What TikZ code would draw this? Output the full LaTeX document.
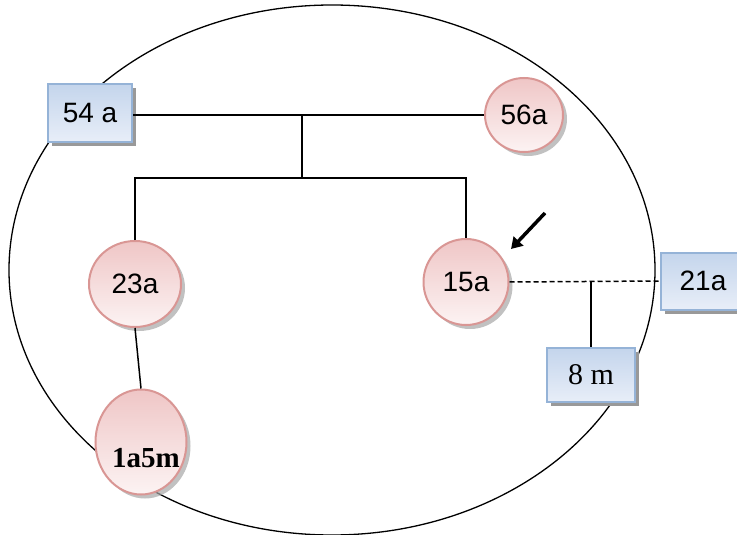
\documentclass[tikz,border=0pt]{standalone}
\usepackage{fontspec}
\newfontfamily\arialf{Liberation Sans}
\newfontfamily\timesf{Liberation Serif}
\usetikzlibrary{shapes.geometric,shadows,arrows.meta}
\definecolor{boxtop}{HTML}{C4D5EC}
\definecolor{boxbot}{HTML}{E8EEF8}
\definecolor{boxline}{HTML}{95B3D7}
\definecolor{balltop}{HTML}{EFC6C6}
\definecolor{ballbot}{HTML}{FCF3F3}
\definecolor{ballline}{HTML}{D99694}
\tikzset{
  link/.style={draw=black, line width=1.5pt},
  boxnode/.style={rectangle, draw=boxline, line width=2pt,
    top color=boxtop, bottom color=boxbot, inner sep=0pt,
    drop shadow={shadow xshift=4pt, shadow yshift=-4pt, fill=black!40, opacity=1},
    font=\arialf\fontsize{28}{30}\selectfont},
  ballnode/.style={ellipse, draw=ballline, line width=2pt,
    top color=balltop, bottom color=ballbot, inner sep=0pt,
    drop shadow={shadow xshift=4pt, shadow yshift=-4pt, fill=black!35, opacity=0.7},
    font=\arialf\fontsize{28}{30}\selectfont},
}
\begin{document}
\begin{tikzpicture}[x=1pt, y=-1pt]
\useasboundingbox (0,0) rectangle (737,535);

% enclosing ellipse
\draw[line width=1.3pt] (332,270) ellipse [x radius=323pt, y radius=265pt];

% nodes
\node[boxnode, minimum width=84pt, minimum height=58pt] (b54) at (90,113) {54 a};
\node[ballnode, minimum width=78pt, minimum height=74pt] (c56) at (524,115) {56a};
\node[ballnode, minimum width=92pt, minimum height=86pt] (c23) at (135,284) {23a};
\node[ballnode, minimum width=85pt, minimum height=86pt] (c15) at (466,282) {15a};
\node[ballnode, minimum width=91pt, minimum height=105pt] (c1a5m) at (141,442) {};
\node[font=\timesf\bfseries\fontsize{29}{32}\selectfont, inner sep=0pt] (t1a5m) at (146,458) {1a5m};
\node[boxnode, minimum width=84pt, minimum height=57pt] (b21) at (703,281) {21a};
\node[boxnode, minimum width=88pt, minimum height=54pt, font=\timesf\fontsize{30}{32}\selectfont] (b8m) at (591,375) {8 m};

% tree connectors
\coordinate (top) at (302,115);
\coordinate (mid) at (302,178);
\draw[link] (top -| b54.east) -- (top -| c56.west);
\draw[link] (top) -- (mid);
\draw[link] (c23.north) |- (mid) -| (c15.north);
\draw[link] (c23.south) -- (c1a5m.north);

% dashed link and branch
\draw[link, dash pattern=on 5pt off 3pt] (c15.east) -- (b21.west);
\coordinate (fork) at (b8m.north |- c15.east);
\draw[link] (fork) -- (b8m.north);

% pointer arrow
\coordinate (ptail) at (545,213);
\coordinate (phead) at (511,249);
\draw[line width=3.5pt, -{Triangle[length=11pt, width=13pt]}] (ptail) -- (phead);
\end{tikzpicture}
\end{document}
